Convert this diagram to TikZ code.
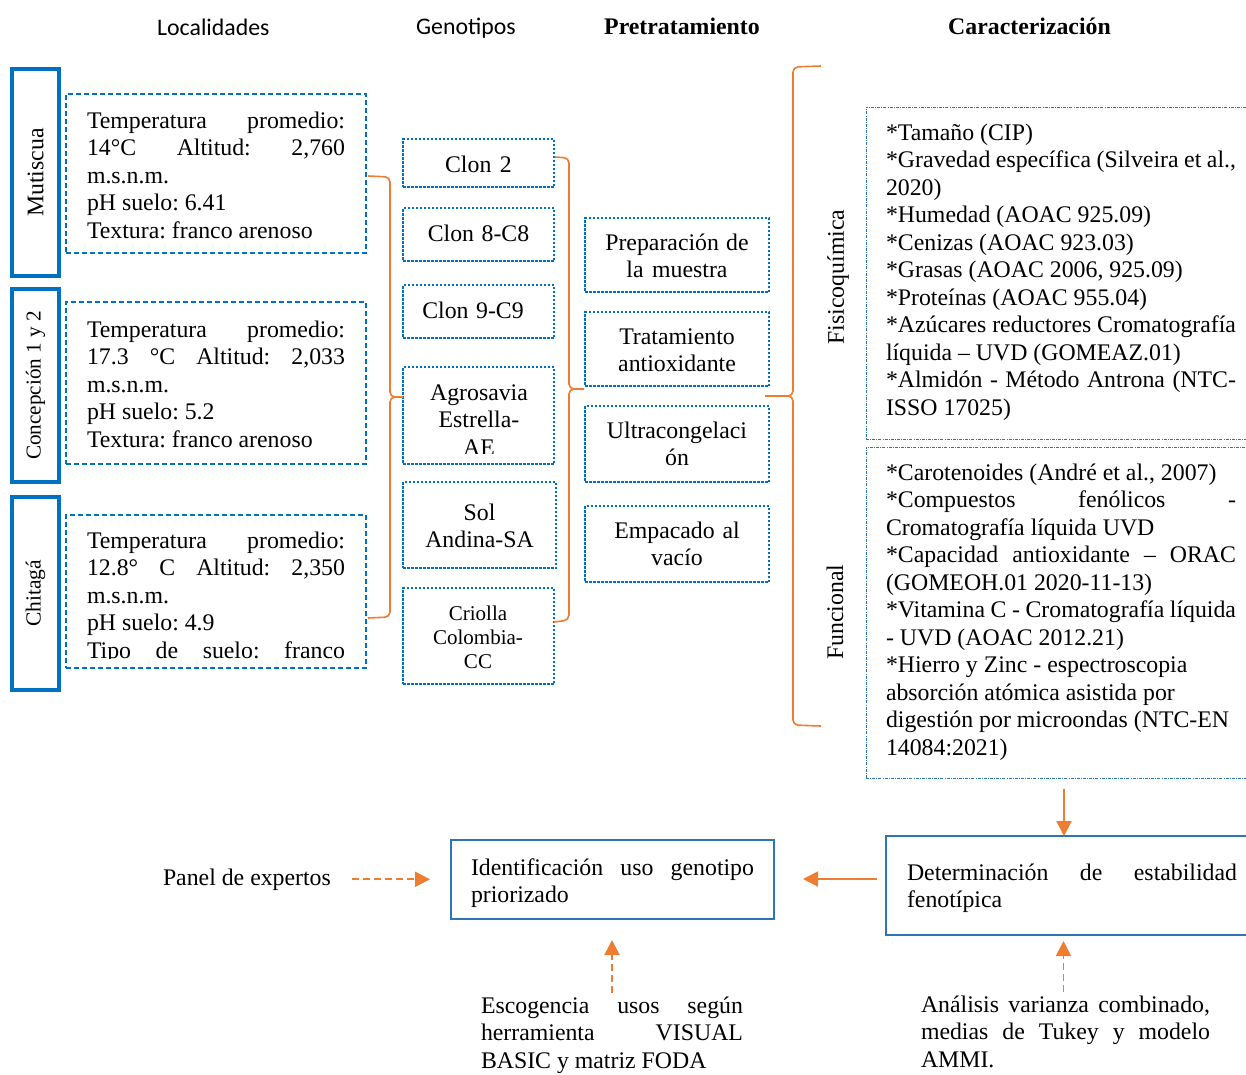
\documentclass[tikz,border=0pt]{standalone}
\usepackage{fontspec}
\setmainfont{Liberation Serif}
\newfontfamily\calib{Carlito}
\usetikzlibrary{arrows.meta}
\definecolor{bl}{HTML}{0070C0}
\definecolor{bltwo}{HTML}{2E75B6}
\definecolor{orng}{HTML}{ED7D31}
\frenchspacing
\newcommand\fs{\fontsize{23.8}{27.5}\selectfont}
\newcommand\fsb{\fontsize{23.8}{27.8}\selectfont}
\newcommand\rs{\spaceskip=0pt\xspaceskip=0pt\frenchspacing}
\newcommand\jl[2]{\makebox[#1pt][s]{\rs #2}}
\begin{document}
\begin{tikzpicture}[x=1pt,y=-1pt,
  box/.style={rectangle, inner sep=0pt, outer sep=0pt},
  locbox/.style={box, draw=bl, line width=4pt, rotate=90},
  infobox/.style={box, draw=bl, line width=1.3pt, dash pattern=on 5pt off 3pt},
  dotbox/.style={box, draw=bl, line width=1.2pt, dash pattern=on 2.5pt off 1.5pt},
  ddbox/.style={box, draw=bltwo, line width=1pt, dash pattern=on 3pt off 1.2pt on 0.8pt off 1.2pt},
  solidbox/.style={box, draw=bltwo, line width=1.5pt},
  txt/.style={inner sep=0pt, outer sep=0pt, font=\fs},
  ctxt/.style={inner sep=0pt, outer sep=0pt, font=\fsb, align=center},
  brc/.style={draw=orng, line width=1.6pt, rounded corners=5pt},
  arr/.style={draw=orng, line width=2pt, -{Triangle[length=15pt,width=15pt]}, orng},
  darr/.style={arr, line width=1.8pt, dash pattern=on 7pt off 4pt}
]
\useasboundingbox (0,0) rectangle (1246,1074);
\clip (0,0) rectangle (1246,1074);

% headers
\node[inner sep=0pt, anchor=base west, font=\calib\fontsize{23.8}{28}\selectfont] (h1) at (157,35) {Localidades};
\node[inner sep=0pt, anchor=base west, font=\calib\fontsize{23.8}{28}\selectfont] (h2) at (416,34) {Genotipos};
\node[inner sep=0pt, anchor=base west, font=\fs\bfseries] (h3) at (604,34) {Pretratamiento};
\node[inner sep=0pt, anchor=base west, font=\fs\bfseries] (h4) at (948,34) {Caracterización};

% localities
\node[locbox, minimum width=207pt, minimum height=47pt, font=\fs] (mut) at (35.5,172.5) {Mutiscua};
\node[locbox, minimum width=193pt, minimum height=47pt, font=\fontsize{21.2}{24}\selectfont] (con) at (35.5,385.5) {Concepción 1 y 2};
\node[locbox, minimum width=193pt, minimum height=47pt, font=\fontsize{21.5}{24}\selectfont] (chi) at (35.5,593.5) {Chitagá};

\node[infobox, minimum width=300pt, minimum height=159pt] (info1) at (216,173.5) {};
\node[infobox, minimum width=300pt, minimum height=162pt] (info2) at (216,383) {};
\node[infobox, minimum width=300pt, minimum height=153pt] (info3) at (216,591.5) {};

\node[txt, anchor=base west, text width=258pt, align=left] (ti1) at (87,128)
 {\rs\jl{258}{Temperatura promedio:}\\ \jl{258}{14°C Altitud: 2,760}\\ m.s.n.m.\\ pH suelo: 6.41\\ Textura: franco arenoso};
\node[txt, anchor=base west, text width=258pt, align=left] (ti2) at (87,337)
 {\rs\jl{258}{Temperatura promedio:}\\ \jl{258}{17.3 °C Altitud: 2,033}\\ m.s.n.m.\\ pH suelo: 5.2\\ Textura: franco arenoso};
\begin{scope}
\clip (66,515) rectangle (366,658);
\node[txt, anchor=base west, text width=258pt, align=left] (ti3) at (87,548)
 {\rs\jl{258}{Temperatura promedio:}\\ \jl{258}{12.8° C Altitud: 2,350}\\ m.s.n.m.\\ pH suelo: 4.9\\ \jl{258}{Tipo de suelo: franco}};
\end{scope}

% genotypes
\node[dotbox, minimum width=151pt, minimum height=48pt] (g1) at (478.5,163) {};
\node[dotbox, minimum width=151pt, minimum height=53pt] (g2) at (478.5,234.5) {};
\node[dotbox, minimum width=151pt, minimum height=53pt] (g3) at (478.5,311.5) {};
\node[dotbox, minimum width=151pt, minimum height=97pt] (g4) at (478.5,415.5) {};
\node[dotbox, minimum width=153pt, minimum height=86pt] (g5) at (479.5,525) {};
\node[dotbox, minimum width=151pt, minimum height=96pt] (g6) at (478.5,636) {};

\node[ctxt, anchor=base, text width=151pt] (tg1) at (478.5,172) {\rs Clon 2};
\node[ctxt, anchor=base, text width=151pt] (tg2) at (478.5,241) {\rs Clon 8-C8};
\node[ctxt, anchor=base, text width=151pt] (tg3) at (473,318) {\rs Clon 9-C9};
\begin{scope}
\clip (403,367) rectangle (554,453.5);
\node[ctxt, anchor=base, text width=151pt] (tg4) at (479,400) {\rs Agrosavia\\Estrella-\\AE};
\end{scope}
\node[ctxt, anchor=base, text width=153pt] (tg5) at (479.5,520) {\rs Sol\\Andina-SA};
\node[ctxt, anchor=base, text width=151pt, font=\fontsize{21}{24.2}\selectfont] (tg6) at (478,620) {\rs Criolla\\Colombia-\\CC};

% pretreatment
\node[dotbox, minimum width=184pt, minimum height=74pt] (p1) at (677,255) {};
\node[dotbox, minimum width=184pt, minimum height=74pt] (p2) at (677,349) {};
\node[dotbox, minimum width=184pt, minimum height=76pt] (p3) at (677,444) {};
\node[dotbox, minimum width=184pt, minimum height=76pt] (p4) at (677,544) {};

\node[ctxt, anchor=base, text width=184pt] (tp1) at (677,250) {\rs Preparación de\\la muestra};
\node[ctxt, anchor=base, text width=184pt] (tp2) at (677,344) {\rs Tratamiento\\antioxidante};
\node[ctxt, anchor=base, text width=184pt] (tp3) at (677,438) {\rs Ultracongelaci\\ón};
\node[ctxt, anchor=base, text width=184pt] (tp4) at (677,538) {\rs Empacado al\\vacío};

% braces
\draw[brc] (368,176) -- (390,177) -- (390,397) -- (403,397);
\draw[brc] (403,397) -- (390,397) -- (390,617) -- (368,618);
\draw[brc] (555,157) -- (569,158) -- (569,389) -- (584,389);
\draw[brc] (584,389) -- (569,389) -- (569,620) -- (554,622);
\draw[brc] (821,66) -- (793,67) -- (793,396) -- (765,396);
\draw[brc] (765,396) -- (793,396) -- (793,725) -- (821,726);

% characterization
\node[ddbox, minimum width=396pt, minimum height=332pt] (c1) at (1064,273) {};
\node[ddbox, minimum width=396pt, minimum height=331pt] (c2) at (1064,612.5) {};
\node[txt, rotate=90] (lc1) at (838,277) {Fisicoquímica};
\node[txt, rotate=90] (lc2) at (835,612) {Funcional};

\node[txt, anchor=base west, text width=350pt, align=left] (tc1) at (886,140)
 {\rs{*}Tamaño (CIP)\\ \jl{350}{*Gravedad específica (Silveira et al.,}\\ 2020)\\ {*}Humedad (AOAC 925.09)\\ {*}Cenizas (AOAC 923.03)\\ {*}Grasas (AOAC 2006, 925.09)\\ {*}Proteínas (AOAC 955.04)\\ \jl{350}{*Azúcares reductores Cromatografía}\\ líquida – UVD (GOMEAZ.01)\\ \jl{350}{*Almidón - Método Antrona (NTC-}\\ ISSO 17025)};
\node[txt, anchor=base west, text width=350pt, align=left] (tc2) at (886,480)
 {\rs{*}Carotenoides (André et al., 2007)\\ \jl{350}{*Compuestos fenólicos -}\\ Cromatografía líquida UVD\\ \jl{350}{*Capacidad antioxidante – ORAC}\\ (GOMEOH.01 2020-11-13)\\ \jl{350}{*Vitamina C - Cromatografía líquida}\\ - UVD (AOAC 2012.21)\\ {*}Hierro y Zinc - espectroscopia\\ absorción atómica asistida por\\ digestión por microondas (NTC-EN\\ 14084:2021)};

% bottom row
\node[solidbox, minimum width=376pt, minimum height=99pt] (det) at (1074,885.5) {};
\node[solidbox, minimum width=323pt, minimum height=79pt] (ident) at (612.5,879.5) {};
\node[txt, anchor=base west, text width=330pt, align=left] (tdet) at (907,880)
 {\rs\jl{330}{Determinación de estabilidad}\\ fenotípica};
\node[txt, anchor=base west, text width=283pt, align=left] (tid) at (471,875)
 {\rs\jl{283}{Identificación uso genotipo}\\ priorizado};
\node[txt, anchor=base west] (panel) at (163,885) {Panel de expertos};
\node[txt, anchor=base west, text width=262pt, align=left] (tesc) at (481,1013)
 {\rs\jl{262}{Escogencia usos según}\\ \jl{262}{herramienta VISUAL}\\ BASIC y matriz FODA};
\node[txt, anchor=base west, text width=289pt, align=left] (tana) at (921,1012)
 {\rs\jl{289}{Análisis varianza combinado,}\\ \jl{289}{medias de Tukey y modelo}\\ AMMI.};

% arrows
\draw[arr, shorten <=11pt] (c2.south) -- (c2.south |- det.north);
\draw[arr, shorten <=9pt, shorten >=29pt] ([yshift=0.5pt]ident.east -| det.west) -- ([yshift=0.5pt]ident.east);
\draw[darr, shorten <=21pt, shorten >=21pt] (panel.east) -- (ident.west |- panel.east);
\draw[darr, shorten <=3pt, shorten >=21pt] (tesc.north) -- (tesc.north |- ident.south);
\draw[darr, shorten <=3pt, shorten >=6pt] ([xshift=-2pt]tana.north) -- ([xshift=-2pt]tana.north |- det.south);
\end{tikzpicture}
\end{document}
